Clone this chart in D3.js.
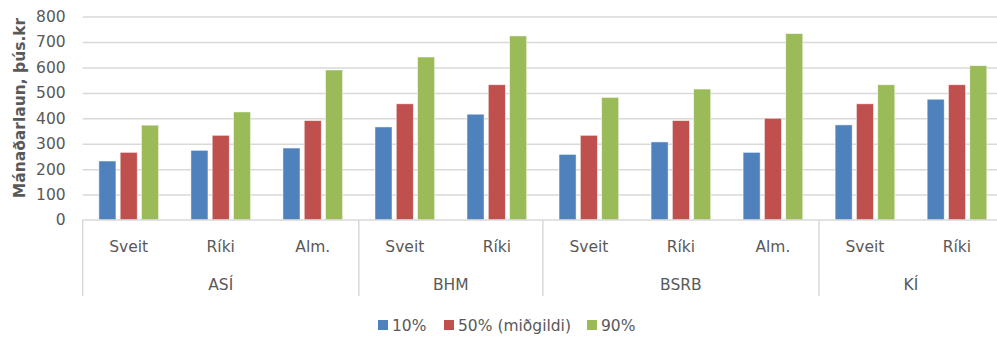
<!DOCTYPE html>
<html>
<head>
<meta charset="utf-8">
<script src="https://cdn.jsdelivr.net/npm/d3@7"></script>
<style>
  body { margin: 0; background: #fff; }
  #chart { width: 997px; height: 337px; overflow: hidden; }
  text { font-family: "DejaVu Sans", sans-serif; fill: #595959; }
</style>
</head>
<body>
<div id="chart"></div>
<script>
// data
var groups = ["ASÍ", "BHM", "BSRB", "KÍ"];
var subcats = [["Sveit", "Ríki", "Alm."], ["Sveit", "Ríki"], ["Sveit", "Ríki", "Alm."], ["Sveit", "Ríki"]];
var seriesNames = ["10%", "50% (miðgildi)", "90%"];
var seriesColors = ["#4f81bd", "#c0504d", "#9bbb59"];
var p10 = [232, 274, 283, 366, 416, 258, 307, 266, 374, 475];
var p50 = [266, 333, 391, 457, 532, 333, 391, 400, 457, 532];
var p90 = [373, 425, 590, 641, 724, 482, 515, 733, 532, 607];
var yTicks = [0, 100, 200, 300, 400, 500, 600, 700, 800];

// flat list of categories, one per sub-category
var cats = [];
groups.forEach(function(g, gi) {
  subcats[gi].forEach(function(s) { cats.push({ group: g, sub: s, key: g + "|" + s }); });
});
var values = [p10, p50, p90];

var W = 997, H = 337;
var margin = { left: 82.7, right: 1003, top: 16.6, bottom: 220 };

var svg = d3.select("#chart").append("svg")
  .attr("width", W).attr("height", H);

var x = d3.scaleBand()
  .domain(cats.map(function(d) { return d.key; }))
  .range([margin.left, margin.right]);

var xs = d3.scaleBand()
  .domain([0, 1, 2])
  .range([0, x.bandwidth()])
  .paddingInner(0.2)
  .paddingOuter(0.76);

var y = d3.scaleLinear().domain([0, 800]).range([margin.bottom, margin.top]);

// gridlines
svg.append("g")
  .attr("transform", "translate(" + margin.left + ",0)")
  .call(d3.axisLeft(y).tickValues(yTicks.slice(1)).tickSize(-(margin.right - margin.left)).tickFormat(""))
  .call(function(g) { g.select(".domain").remove(); })
  .selectAll("line").attr("stroke", "#d9d9d9").attr("stroke-width", 1.5);

// y tick labels
svg.append("g")
  .attr("transform", "translate(" + margin.left + ",0)")
  .call(d3.axisLeft(y).tickValues(yTicks).tickSize(0).tickPadding(17))
  .call(function(g) { g.select(".domain").remove(); })
  .selectAll("text")
  .style("font-size", "15.5px")
  .style("font-family", "DejaVu Sans, sans-serif")
  .attr("fill", "#595959");

// bars
cats.forEach(function(c, ci) {
  values.forEach(function(arr, si) {
    svg.append("rect")
      .attr("x", x(c.key) + xs(si))
      .attr("y", y(arr[ci]))
      .attr("width", xs.bandwidth())
      .attr("height", y(0) - y(arr[ci]))
      .attr("fill", seriesColors[si])
      .attr("stroke", "#ffffff")
      .attr("stroke-opacity", 0.6)
      .attr("stroke-width", 0.8);
  });
});

// category axis line
svg.append("line")
  .attr("x1", margin.left).attr("x2", margin.right)
  .attr("y1", margin.bottom).attr("y2", margin.bottom)
  .attr("stroke", "#d9d9d9").attr("stroke-width", 1.5);

// group separators and group labels
var idx = 0;
groups.forEach(function(g, gi) {
  var first = cats[idx].key;
  var last = cats[idx + subcats[gi].length - 1].key;
  var gx0 = x(first), gx1 = x(last) + x.bandwidth();
  svg.append("line")
    .attr("x1", gx0).attr("x2", gx0)
    .attr("y1", margin.bottom).attr("y2", 296)
    .attr("stroke", "#d9d9d9").attr("stroke-width", 1.5);
  svg.append("text")
    .attr("x", (gx0 + gx1) / 2)
    .attr("y", 285)
    .attr("text-anchor", "middle")
    .attr("dominant-baseline", "central")
    .style("font-size", "15.5px")
    .text(g);
  idx += subcats[gi].length;
});

// sub-category labels
svg.selectAll(".sub")
  .data(cats)
  .enter().append("text")
  .attr("class", "sub")
  .attr("x", function(d) { return x(d.key) + x.bandwidth() / 2; })
  .attr("y", 246.5)
  .attr("text-anchor", "middle")
  .attr("dominant-baseline", "central")
  .style("font-size", "15.5px")
  .text(function(d) { return d.sub; });

// y axis title
svg.append("text")
  .attr("transform", "translate(20,108) rotate(-90)")
  .attr("text-anchor", "middle")
  .attr("dominant-baseline", "central")
  .style("font-size", "15.5px")
  .style("font-weight", "bold")
  .text("Mánaðarlaun, þús.kr");

// legend
var legendX = [378, 444, 587];
seriesNames.forEach(function(n, i) {
  svg.append("rect")
    .attr("x", legendX[i]).attr("y", 320)
    .attr("width", 10).attr("height", 10)
    .attr("fill", seriesColors[i]);
  svg.append("text")
    .attr("x", legendX[i] + 14).attr("y", 325.5)
    .attr("dominant-baseline", "central")
    .style("font-size", "15.5px")
    .text(n);
});
</script>
</body>
</html>
